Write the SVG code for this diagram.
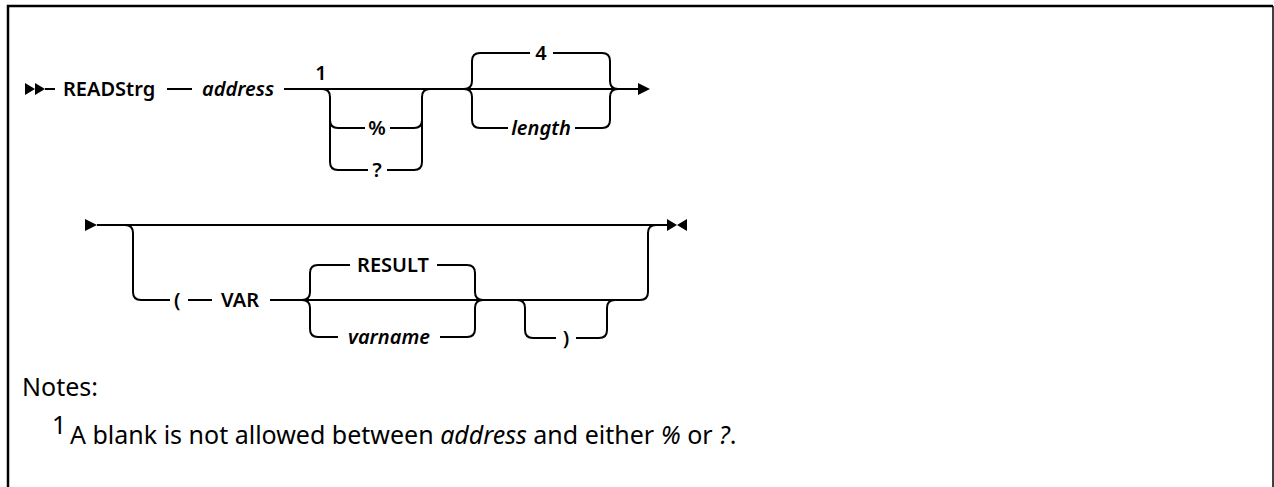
<svg xmlns="http://www.w3.org/2000/svg" width="1274" height="487" viewBox="0 0 1274 487">
<style>
.ln{fill:none;stroke:#000;stroke-width:2}
.t{font-family:"Noto Sans","Liberation Sans",sans-serif;font-size:20px;font-weight:600;fill:#000}
.i{font-style:italic}
.m{text-anchor:middle}
.n{font-family:"Noto Sans","Liberation Sans",sans-serif;font-size:25px;fill:#000}
</style>
<rect width="1274" height="487" fill="#fff"/>
<g id="frame">
<path d="M8 487 V6 H1273" fill="none" stroke="#000" stroke-width="2.5"/>
<path d="M1273 6 V487" fill="none" stroke="#000" stroke-width="1.5"/>
</g>
<g id="connectors">
<path class="ln" d="M45 89 H55 M167 89 H192 M284 89 H638"/>
<path class="ln" d="M322 89 Q330 89 330 97 V120 Q330 128 338 128 H365 M330 120 V162 Q330 170 338 170 H368"/>
<path class="ln" d="M390 128 H414 Q422 128 422 120 V97 Q422 89 430 89 M387 170 H414 Q422 170 422 162 V120"/>
<path class="ln" d="M464 89 Q472 89 472 81 V61 Q472 53 480 53 H530 M553 53 H602 Q610 53 610 61 V81 Q610 89 618 89"/>
<path class="ln" d="M464 89 Q472 89 472 97 V120 Q472 128 480 128 H508 M575 128 H602 Q610 128 610 120 V97 Q610 89 618 89"/>
<path class="ln" d="M97 225 H667"/>
<path class="ln" d="M125 225 Q133 225 133 233 V292 Q133 300 141 300 H170 M188 300 H212 M270 300 H640"/>
<path class="ln" d="M302 300 Q310 300 310 292 V273 Q310 265 318 265 H350 M437 265 H467 Q475 265 475 273 V292 Q475 300 483 300"/>
<path class="ln" d="M302 300 Q310 300 310 308 V329 Q310 337 318 337 H338 M440 337 H467 Q475 337 475 329 V308 Q475 300 483 300"/>
<path class="ln" d="M517 300 Q525 300 525 308 V330 Q525 338 533 338 H556 M576 338 H599 Q607 338 607 330 V308 Q607 300 615 300"/>
<path class="ln" d="M640 300 Q648 300 648 292 V233 Q648 225 656 225"/>
<polygon points="25,83 35,89 25,95"/>
<polygon points="35,83 45,89 35,95"/>
<polygon points="638,83 650,89 638,95"/>
<polygon points="85,219 97,225 85,231"/>
<polygon points="667,219 677,225 667,231"/>
<polygon points="687,219 677,225 687,231"/>
</g>
<g id="node-readstrg"><text class="t" x="63" y="96">READStrg</text></g>
<g id="node-address"><text class="t i" x="202" y="96">address</text></g>
<g id="node-note-ref"><text class="t m" x="321" y="80" font-size="17">1</text></g>
<g id="node-percent"><text class="t m" x="377" y="135">%</text></g>
<g id="node-question"><text class="t m" x="377" y="177">?</text></g>
<g id="node-4"><text class="t m" x="541" y="60">4</text></g>
<g id="node-length"><text class="t m i" x="541" y="135">length</text></g>
<g id="node-lparen"><text class="t" x="174" y="307">(</text></g>
<g id="node-var"><text class="t" x="221" y="307">VAR</text></g>
<g id="node-result"><text class="t m" x="393" y="272">RESULT</text></g>
<g id="node-varname"><text class="t m i" x="389" y="344">varname</text></g>
<g id="node-rparen"><text class="t m" x="566" y="345">)</text></g>
<g id="notes">
<text class="n" x="22" y="396">Notes:</text>
<text class="n" x="52" y="434" font-size="16">1</text>
<text class="n" x="70" y="444">A blank is not allowed between <tspan font-style="italic">address</tspan> and either <tspan font-style="italic">%</tspan> or <tspan font-style="italic">?</tspan>.</text>
</g>
</svg>
